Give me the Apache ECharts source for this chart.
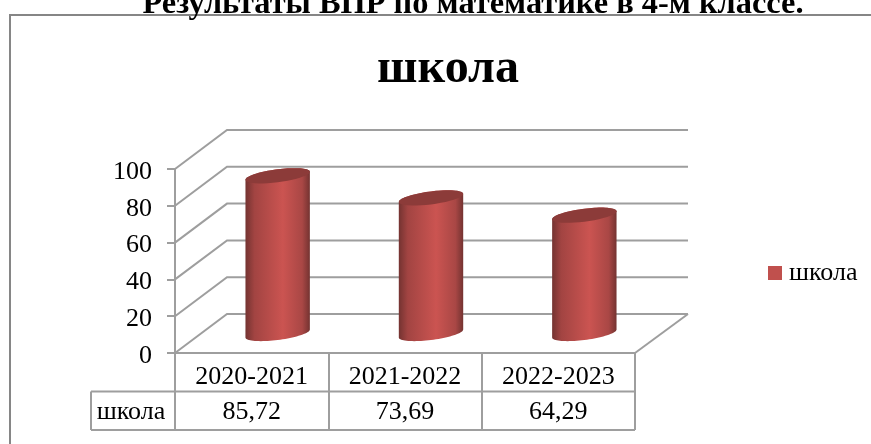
<!DOCTYPE html>
<html style="height: 100%">
<head>
<meta charset="utf-8">
<title>школа</title>
<script src="https://cdn.jsdelivr.net/npm/echarts@6/dist/echarts.min.js"></script>
</head>
<body style="height: 100%; margin: 0; background: #fff">
<div id="container" style="width: 871px; height: 444px"></div>
<script type="text/javascript">
const pageTitle = 'Результаты ВПР по математике в 4-м классе.';
const seriesName = 'школа';
const categories = ['2020-2021', '2021-2022', '2022-2023'];
const schoolValues = [85.72, 73.69, 64.29];
const valueLabels = ['85,72', '73,69', '64,29'];
const yTicks = [0, 20, 40, 60, 80, 100];

const FONT = '"Liberation Serif", "Times New Roman", serif';
const LINE = '#9e9e9e';
const DEPTH_X = 52, DEPTH_Y = 39;   // 3d offset of the back wall
const ROW_H = 38.5;

// top/bottom outline of the slanted cylinder cap
function capPoints(cx, cy, a, from, to) {
    let pts = [];
    for (let i = 0; i <= 40; i++) {
        let t = from + (to - from) * i / 40;
        pts.push([cx + a * Math.cos(t), cy + 6.5 * Math.sin(t) - 4 * Math.cos(t)]);
    }
    return pts;
}

// walls and floor, one item per y tick
function renderWall(params, api) {
    let y = api.coord([0, api.value(1)])[1];
    let sys = params.coordSys;
    let x0 = sys.x, x1 = sys.x + DEPTH_X, x2 = sys.x + sys.width + DEPTH_X + 1;
    let ls = { stroke: LINE, lineWidth: 2, fill: null };
    let kids = [{
        type: 'polyline',
        shape: { points: [[x0, y], [x1, y - DEPTH_Y], [x2, y - DEPTH_Y]] },
        style: ls
    }];
    if (api.value(1) === 0) {
        kids.push({
            type: 'line',
            shape: { x1: sys.x + sys.width, y1: y, x2: x2, y2: y - DEPTH_Y },
            style: ls
        });
    }
    return { type: 'group', children: kids };
}

function renderCylinder(params, api) {
    let c = api.coord([api.value(0), api.value(1)]);
    let base = api.coord([api.value(0), 0]);
    let band = api.size([1, 0])[0];
    let a = band * 0.21;
    let cx = c[0] + DEPTH_X / 2;
    let yTop = c[1] - DEPTH_Y / 2;
    let yBot = base[1] - DEPTH_Y / 2;
    let side = capPoints(cx, yBot, a, 0, Math.PI).concat(capPoints(cx, yTop, a, Math.PI, 2 * Math.PI));
    return {
        type: 'group',
        children: [{
            type: 'polygon',
            shape: { points: side },
            style: {
                fill: new echarts.graphic.LinearGradient(0, 0, 1, 0, [
                    { offset: 0, color: '#743331' },
                    { offset: 0.14, color: '#a24442' },
                    { offset: 0.58, color: '#cb5451' },
                    { offset: 0.88, color: '#a94745' },
                    { offset: 1, color: '#743331' }
                ])
            }
        }, {
            type: 'polygon',
            shape: { points: capPoints(cx, yTop, a, 0, 2 * Math.PI) },
            style: { fill: '#8c3b39' }
        }]
    };
}

// data table row under the axis, the first row comes from the axis labels
function renderTable(params, api) {
    let sys = params.coordSys;
    let left = sys.x, bottom = sys.y + sys.height;
    let ls = { stroke: LINE, lineWidth: 2 };
    let x = api.coord([api.value(0), 0])[0];
    let kids = [{
        type: 'text',
        style: {
            x: x, y: bottom + ROW_H * 1.5 + 1, text: valueLabels[api.value(0)],
            align: 'center', verticalAlign: 'middle',
            font: '26px ' + FONT, fill: '#000'
        }
    }];
    if (params.dataIndex === 0) {
        kids.push(
            { type: 'line', shape: { x1: left - 84, y1: bottom + ROW_H, x2: sys.x + sys.width, y2: bottom + ROW_H }, style: ls },
            { type: 'line', shape: { x1: left - 84, y1: bottom + ROW_H * 2, x2: sys.x + sys.width, y2: bottom + ROW_H * 2 }, style: ls },
            { type: 'line', shape: { x1: left - 84, y1: bottom + ROW_H, x2: left - 84, y2: bottom + ROW_H * 2 }, style: ls },
            {
                type: 'text',
                style: {
                    x: left - 44, y: bottom + ROW_H * 1.5 + 1, text: seriesName,
                    align: 'center', verticalAlign: 'middle',
                    font: '26px ' + FONT, fill: '#000'
                }
            }
        );
    }
    return { type: 'group', children: kids };
}

let chart = echarts.init(document.getElementById('container'));
chart.setOption({
    backgroundColor: '#fff',
    animation: false,
    title: [{
        text: pageTitle,
        left: 468, top: -16, textAlign: 'center',
        textStyle: { fontFamily: FONT, fontSize: 32.4, fontWeight: 'bold', color: '#000' }
    }, {
        text: seriesName,
        left: 443, top: 41, textAlign: 'center',
        textStyle: { fontFamily: FONT, fontSize: 48, fontWeight: 'bold', color: '#000' }
    }],
    legend: {
        data: [seriesName],
        left: 763, top: 255,
        icon: 'rect', itemWidth: 14, itemHeight: 14, itemGap: 0,
        textStyle: { fontFamily: FONT, fontSize: 26, color: '#000', padding: [2, 0, 0, 2] }
    },
    grid: { left: 175, right: 236, top: 169, bottom: 91 },
    xAxis: {
        type: 'category',
        data: categories,
        axisLine: { lineStyle: { color: LINE, width: 2 } },
        axisTick: { show: true, alignWithLabel: false, length: 77, lineStyle: { color: LINE, width: 2 } },
        axisLabel: { fontFamily: FONT, fontSize: 26, color: '#000', margin: 11 }
    },
    yAxis: {
        type: 'value',
        min: 0, max: 100, interval: 20,
        axisLine: { show: true, lineStyle: { color: LINE, width: 2 } },
        axisTick: { show: true, length: 8, lineStyle: { color: LINE, width: 2 } },
        axisLabel: {
            margin: 23,
            formatter: '{t|{value}}',
            rich: { t: { fontFamily: FONT, fontSize: 26, color: '#000', padding: [6, 0, 0, 0] } }
        },
        splitLine: { show: false }
    },
    series: [
        { name: 'wall', type: 'custom', z: 1, renderItem: renderWall, data: yTicks.map(t => [0, t]), silent: true },
        { name: 'table', type: 'custom', z: 1, renderItem: renderTable, data: categories.map((c, i) => [i, 0]), silent: true },
        {
            name: seriesName,
            type: 'custom',
            z: 3,
            renderItem: renderCylinder,
            itemStyle: { color: '#c0504d' },
            data: schoolValues.map((v, i) => [i, v])
        }
    ],
    graphic: [
        // chart frame, only the top and left edges fall inside the picture
        { type: 'polyline', silent: true, shape: { points: [[10, 444], [10, 15], [871, 15]] }, style: { stroke: '#868686', lineWidth: 2, fill: null } }
    ]
});
</script>
</body>
</html>
